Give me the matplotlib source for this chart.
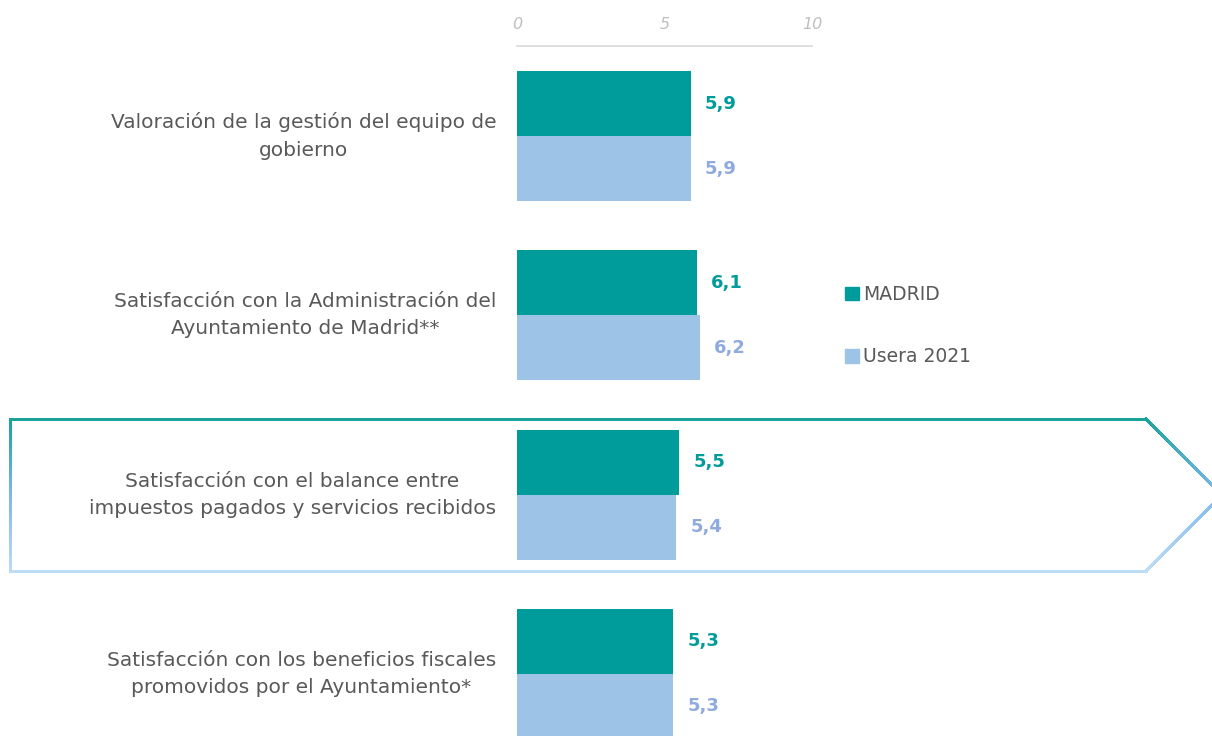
"""
plot.py

Valoracion de la gestion municipal: MADRID vs Usera 2021.
"""

import matplotlib.pyplot as plt
import numpy as np
from matplotlib.collections import LineCollection
from matplotlib.colors import LinearSegmentedColormap
from matplotlib.patches import Patch

categories = [
    "Valoración de la gestión del equipo de\ngobierno",
    "Satisfacción con la Administración del\nAyuntamiento de Madrid**",
    "Satisfacción con el balance entre\nimpuestos pagados y servicios recibidos",
    "Satisfacción con los beneficios fiscales\npromovidos por el Ayuntamiento*",
]
madrid = [5.9, 6.1, 5.5, 5.3]
usera = [5.9, 6.2, 5.4, 5.3]
series_names = ["MADRID", "Usera 2021"]
x_ticks = [0, 5, 10]

TEAL = "#009B9B"
LIGHT_BLUE = "#9DC3E6"
USERA_TEXT = "#8FAADC"
TEXT_GRAY = "#595959"

W, H = 1212, 736


def main():
    plt.rcParams["font.family"] = ["DejaVu Sans"]

    fig = plt.figure(figsize=(W / 100, H / 100), dpi=100)
    ax = fig.add_axes([517 / W, 0, 295 / W, 1 - 46 / H])

    y = np.arange(len(categories))
    h = 0.3625

    ax.barh(y - h / 2, madrid, height=h, color=TEAL)
    ax.barh(y + h / 2, usera, height=h, color=LIGHT_BLUE)

    for yi, m, u in zip(y, madrid, usera):
        ax.annotate(f"{m:.1f}".replace(".", ","), (m, yi - h / 2),
                    xytext=(10, 0), textcoords="offset points",
                    va="center", ha="left", fontsize=13,
                    fontweight="bold", color=TEAL)
        ax.annotate(f"{u:.1f}".replace(".", ","), (u, yi + h / 2),
                    xytext=(10, 0), textcoords="offset points",
                    va="center", ha="left", fontsize=13,
                    fontweight="bold", color=USERA_TEXT)
        ax.annotate(categories[yi], (0, yi), xytext=(-15, 0),
                    textcoords="offset points", ha="right", va="center",
                    multialignment="center", fontsize=14.5,
                    color=TEXT_GRAY, linespacing=1.55)

    ax.set_xlim(0, 10)
    ax.set_ylim(3.346, -0.502)

    ax.xaxis.tick_top()
    ax.set_xticks(x_ticks)
    ax.tick_params(axis="x", length=0, pad=10, labelsize=11.5,
                   labelcolor="#BFBFBF")
    for lbl in ax.get_xticklabels():
        lbl.set_fontstyle("italic")
    ax.set_yticks([])

    for side in ["left", "right", "bottom"]:
        ax.spines[side].set_visible(False)
    ax.spines["top"].set_color("#D9D9D9")
    ax.spines["top"].set_linewidth(1.2)

    handles = [
        Patch(color=TEAL, label=series_names[0]),
        Patch(color=LIGHT_BLUE, label=series_names[1]),
    ]
    fig.legend(handles=handles, loc="upper left",
               bbox_to_anchor=(836 / W, 1 - 276 / H), frameon=False,
               fontsize=13.5, labelcolor=TEXT_GRAY, handlelength=0.7,
               handleheight=0.7, handletextpad=0.25, labelspacing=2.3,
               borderpad=0)

    # arrow-shaped outline around the third category, gradient stroke
    pts = np.array([
        [10, 419], [1146, 419], [1222, 495], [1146, 571],
        [10, 571], [10, 419],
    ], dtype=float)
    segs, cvals = [], []
    for a, b in zip(pts[:-1], pts[1:]):
        t = np.linspace(0, 1, 40)
        line = a + (b - a) * t[:, None]
        for p, q in zip(line[:-1], line[1:]):
            segs.append([(p[0] / W, 1 - p[1] / H), (q[0] / W, 1 - q[1] / H)])
            cvals.append(((p[1] + q[1]) / 2 - 419) / 152)
    cmap = LinearSegmentedColormap.from_list("frame", ["#1AA39A", "#7FB8EE", "#BDDCF5"])
    lc = LineCollection(segs, cmap=cmap, linewidths=2, capstyle="round",
                        antialiaseds=False,
                        transform=fig.transFigure, clip_on=False)
    lc.set_array(np.array(cvals))
    lc.set_clim(0, 1)
    fig.add_artist(lc)

    fig.savefig("out.png", dpi=100)
    plt.close(fig)


if __name__ == "__main__":
    main()
